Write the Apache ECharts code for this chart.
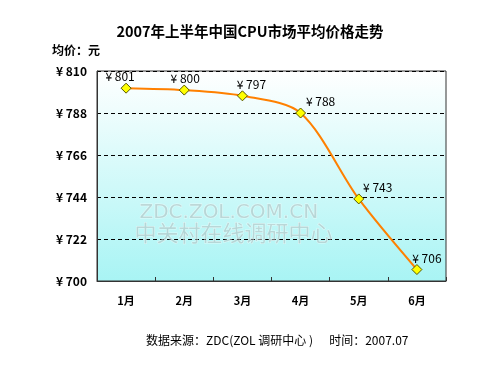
<!DOCTYPE html>
<html>
<head>
<meta charset="utf-8">
<script src="https://cdn.jsdelivr.net/npm/echarts@6/dist/echarts.min.js"></script>
<style>
html,body{margin:0;padding:0;background:#fff;}
#main{width:500px;height:375px;}
</style>
</head>
<body>
<div id="main"></div>
<script>
var months = ['1月', '2月', '3月', '4月', '5月', '6月'];
var prices = [801, 800, 797, 788, 743, 706];
var yTicks = [700, 722, 744, 766, 788, 810];
// 数据标签的水平偏移
var labelShift = [-6, 1, 9, 20, 19, 10];

var font = '"Noto Sans CJK SC", "DejaVu Sans", sans-serif';
var seriesData = [];
for (var i = 0; i < prices.length; i++) {
    seriesData.push({ value: prices[i], label: { offset: [labelShift[i], 0] } });
}

var myChart = echarts.init(document.getElementById('main'));
myChart.setOption({
    backgroundColor: '#ffffff',
    animation: false,
    title: {
        text: '2007年上半年中国CPU市场平均价格走势',
        left: 'center',
        top: 19,
        textStyle: { fontFamily: font, fontSize: 14.5, fontWeight: 'bold', color: '#000' }
    },
    graphic: [
        { type: 'text', left: 52, top: 44, style: { text: '均价：元', font: 'bold 12px ' + font, fill: '#000' } },
        { type: 'text', left: 146, top: 334, style: { text: '数据来源：ZDC(ZOL 调研中心 )      时间：2007.07', font: '12px ' + font, fill: '#000' } },
        { type: 'text', left: 139, top: 202, z: 1, style: { text: 'ZDC.ZOL.COM.CN', font: '20px "DejaVu Sans", sans-serif', fill: 'rgba(150,165,165,0.4)', stroke: 'rgba(255,255,255,0.5)', lineWidth: 1 } },
        { type: 'text', left: 134, top: 221, z: 1, style: { text: '中关村在线调研中心', font: '22px ' + font, fill: 'rgba(150,165,165,0.4)', stroke: 'rgba(255,255,255,0.5)', lineWidth: 1 } }
    ],
    grid: {
        left: 97, right: 54, top: 71, bottom: 94,
        show: true,
        borderColor: '#333',
        borderWidth: 1,
        backgroundColor: new echarts.graphic.LinearGradient(0, 0, 0, 1, [
            { offset: 0, color: '#ffffff' },
            { offset: 1, color: '#a8f4f4' }
        ])
    },
    xAxis: {
        type: 'category',
        data: months,
        boundaryGap: true,
        axisLine: { lineStyle: { color: '#333' } },
        axisTick: { show: true, inside: true, length: 4, lineStyle: { color: '#333' } },
        axisLabel: { margin: 14, fontFamily: font, fontSize: 11, fontWeight: 'bold', color: '#000' }
    },
    yAxis: {
        type: 'value',
        min: yTicks[0],
        max: yTicks[yTicks.length - 1],
        interval: 22,
        axisLine: { show: true, lineStyle: { color: '#333' } },
        axisTick: { show: false },
        axisLabel: {
            margin: 10,
            fontFamily: font, fontSize: 12, fontWeight: 'bold', color: '#000',
            formatter: function (v) { return '¥ ' + v; }
        },
        splitLine: {
            show: true,
            lineStyle: { color: '#000', type: [4, 3], width: 1 }
        }
    },
    series: [{
        name: '均价',
        type: 'line',
        data: seriesData,
        smooth: 0.3,
        z: 5,
        lineStyle: { color: '#ff8000', width: 2 },
        symbol: 'diamond',
        symbolSize: 10,
        itemStyle: { color: '#ffff00', borderColor: '#555500', borderWidth: 1 },
        label: {
            show: true,
            position: 'top',
            distance: 0,
            fontFamily: font,
            fontSize: 12,
            color: '#000',
            formatter: function (p) { return '¥ ' + p.value; }
        }
    }]
});
</script>
</body>
</html>
